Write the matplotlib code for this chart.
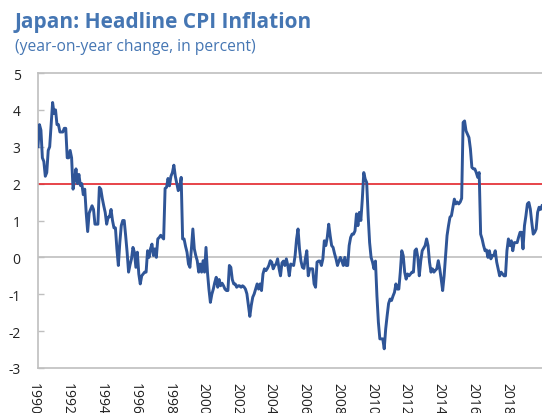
import numpy as np
import matplotlib
matplotlib.use("Agg")
import matplotlib.pyplot as plt
import matplotlib.transforms as mtransforms

plt.rcParams['font.family'] = ['Open Sans', 'DejaVu Sans']

# ---------------- data (monthly y/y headline CPI, %) ----------------
start_year = 1990
cpi_1990 = [3.0, 3.6, 3.45, 2.7, 2.6, 2.2, 2.3, 2.9, 3.0, 3.6, 4.2, 3.9]
cpi_1991 = [4.0, 3.6, 3.6, 3.4, 3.4, 3.4, 3.5, 3.5, 2.7, 2.7, 2.9, 2.7]
cpi_1992 = [1.85, 2.1, 2.4, 2.0, 2.25, 1.95, 2.0, 1.7, 1.85, 1.2, 0.7, 1.2]
cpi_1993 = [1.3, 1.4, 1.3, 0.9, 0.9, 0.9, 1.9, 1.85, 1.6, 1.4, 1.22, 0.9]
cpi_1994 = [1.09, 1.1, 1.3, 1.0, 0.8, 0.8, 0.23, -0.22, 0.4, 0.86, 1.0, 1.0]
cpi_1995 = [0.59, 0.14, -0.4, -0.2, -0.04, 0.27, 0.14, -0.27, 0.14, -0.45, -0.72, -0.5]
cpi_1996 = [-0.45, -0.4, -0.4, 0.18, 0.0, 0.23, 0.36, 0.05, 0.23, 0.0, 0.5, 0.54]
cpi_1997 = [0.6, 0.55, 0.5, 1.87, 1.9, 2.14, 1.94, 2.2, 2.3, 2.5, 2.2, 2.0]
cpi_1998 = [1.81, 1.9, 2.17, 0.5, 0.5, 0.3, 0.14, -0.18, -0.27, 0.23, 0.77, 0.23]
cpi_1999 = [0.05, -0.09, -0.4, -0.18, -0.4, -0.09, -0.4, 0.27, -0.4, -0.86, -1.22, -1.0]
cpi_2000 = [-0.86, -0.68, -0.54, -0.81, -0.6, -0.77, -0.7, -0.77, -0.86, -0.9, -0.9, -0.22]
cpi_2001 = [-0.27, -0.6, -0.72, -0.72, -0.81, -0.77, -0.77, -0.81, -0.77, -0.8, -0.86, -0.99]
cpi_2002 = [-1.3, -1.6, -1.3, -1.08, -0.99, -0.85, -0.72, -0.86, -0.72, -0.9, -0.45, -0.31]
cpi_2003 = [-0.36, -0.3, -0.22, -0.09, -0.13, -0.31, -0.22, -0.18, -0.04, -0.3, -0.5, -0.15]
cpi_2004 = [-0.1, -0.22, -0.04, -0.22, -0.5, -0.18, -0.2, -0.22, 0.05, 0.5, 0.77, 0.23]
cpi_2005 = [-0.1, -0.27, -0.3, -0.04, 0.18, -0.5, -0.31, -0.31, -0.31, -0.72, -0.81, -0.13]
cpi_2006 = [-0.1, -0.1, -0.22, -0.04, 0.45, 0.32, 0.54, 0.9, 0.59, 0.32, 0.27, 0.1]
cpi_2007 = [-0.04, -0.22, -0.1, 0.0, -0.1, -0.22, 0.0, -0.22, -0.22, 0.32, 0.54, 0.63]
cpi_2008 = [0.63, 0.72, 1.18, 0.86, 1.22, 1.0, 1.58, 2.3, 2.12, 2.03, 1.13, 0.4]
cpi_2009 = [0.0, -0.13, -0.31, -0.1, -1.04, -1.76, -2.21, -2.21, -2.21, -2.48, -1.94, -1.58]
cpi_2010 = [-1.25, -1.13, -1.17, -1.05, -0.95, -0.72, -0.86, -0.86, -0.4, 0.18, 0.05, -0.4]
cpi_2011 = [-0.59, -0.45, -0.5, -0.45, -0.4, -0.4, 0.18, 0.23, 0.0, -0.5, -0.1, 0.18]
cpi_2012 = [0.25, 0.32, 0.5, 0.32, -0.13, -0.4, -0.31, -0.4, -0.35, -0.31, -0.09, -0.31]
cpi_2013 = [-0.59, -0.9, -0.5, 0.05, 0.59, 0.86, 1.09, 1.13, 1.36, 1.58, 1.45, 1.5]
cpi_2014 = [1.45, 1.5, 1.6, 3.66, 3.7, 3.43, 3.34, 3.25, 2.94, 2.44, 2.4, 2.4]
cpi_2015 = [2.3, 2.17, 2.3, 0.63, 0.5, 0.32, 0.18, 0.2, 0.0, 0.18, -0.04, 0.05]
cpi_2016 = [0.05, 0.18, -0.13, -0.31, -0.5, -0.4, -0.45, -0.5, -0.5, 0.18, 0.5, 0.32]
cpi_2017 = [0.45, 0.18, 0.4, 0.4, 0.4, 0.55, 0.68, 0.68, 0.23, 0.86, 1.13, 1.45]
cpi_2018 = [1.49, 1.31, 0.95, 0.63, 0.68, 0.77, 1.22, 1.36, 1.3, 1.4]

year_blocks = [cpi_1990, cpi_1991, cpi_1992, cpi_1993, cpi_1994, cpi_1995,
               cpi_1996, cpi_1997, cpi_1998, cpi_1999, cpi_2000, cpi_2001,
               cpi_2002, cpi_2003, cpi_2004, cpi_2005, cpi_2006, cpi_2007,
               cpi_2008, cpi_2009, cpi_2010, cpi_2011, cpi_2012, cpi_2013,
               cpi_2014, cpi_2015, cpi_2016, cpi_2017, cpi_2018]

target_rate = 2.0
y_ticks = [5, 4, 3, 2, 1, 0, -1, -2, -3]
x_tick_labels = ['1990', '1992', '1994', '1996', '1998', '2000', '2002', '2004',
                 '2006', '2008', '2010', '2012', '2014', '2016', '2018']

title = "Japan: Headline CPI Inflation"
subtitle = "(year-on-year change, in percent)"

# ---------------- build ----------------
values = np.concatenate([np.asarray(b, float) for b in year_blocks])
months = np.arange(len(values))
xvals = start_year + months / 12.0

W, H, DPI = 542, 414, 100
fig = plt.figure(figsize=(W / DPI, H / DPI), dpi=DPI)
ax = fig.add_axes([38 / W, (H - 369) / H, (W - 38) / W, (369 - 74) / H])

line_col = '#2F5597'
grid_col = '#BFBFBF'
title_col = '#4576B3'

ax.axhline(0, color=grid_col, lw=1.2, zorder=1)
ax.axhline(target_rate, color='#E3242B', lw=1.2, zorder=2)
ax.plot(xvals, values, color=line_col, lw=2.1, zorder=3, solid_joinstyle='round')

ax.set_ylim(-3, 5)
ax.set_xlim(start_year, start_year + (len(values) - 1) / 12.0)
ax.set_yticks(y_ticks)
ax.set_yticklabels([str(v) for v in y_ticks])

# label spacing as in the reference
label_step = 1.927
ax.set_xticks([start_year + label_step * i for i in range(len(x_tick_labels))])
ax.set_xticklabels(x_tick_labels, rotation=270, va='top', ha='center')

for s in ['top', 'left', 'bottom']:
    ax.spines[s].set_color(grid_col)
    ax.spines[s].set_linewidth(1.2)
ax.spines['right'].set_visible(False)

ax.tick_params(axis='y', direction='in', length=4, width=1, color=grid_col,
               labelsize=10, labelcolor='#222222', pad=12.5)
ax.tick_params(axis='x', length=0, labelsize=10, labelcolor='#222222', pad=10)

offset = mtransforms.ScaledTranslation(-4.3 / DPI, 0, fig.dpi_scale_trans)
for lbl in ax.get_xticklabels():
    lbl.set_transform(lbl.get_transform() + offset)

t1 = fig.text(15 / W, 1 - 28 / H, title, color=title_col, fontsize=13.5,
              fontweight='bold', ha='left', va='baseline')
t2 = fig.text(15 / W, 1 - 51 / H, subtitle, color=title_col, fontsize=10.5,
              ha='left', va='baseline')

fig.canvas.draw()
r = fig.canvas.get_renderer()
for t, target in [(t1, 297), (t2, 242)]:
    w = t.get_window_extent(r).width
    t.set_fontsize(t.get_fontsize() * target / w)

fig.savefig('out.png', dpi=DPI)
